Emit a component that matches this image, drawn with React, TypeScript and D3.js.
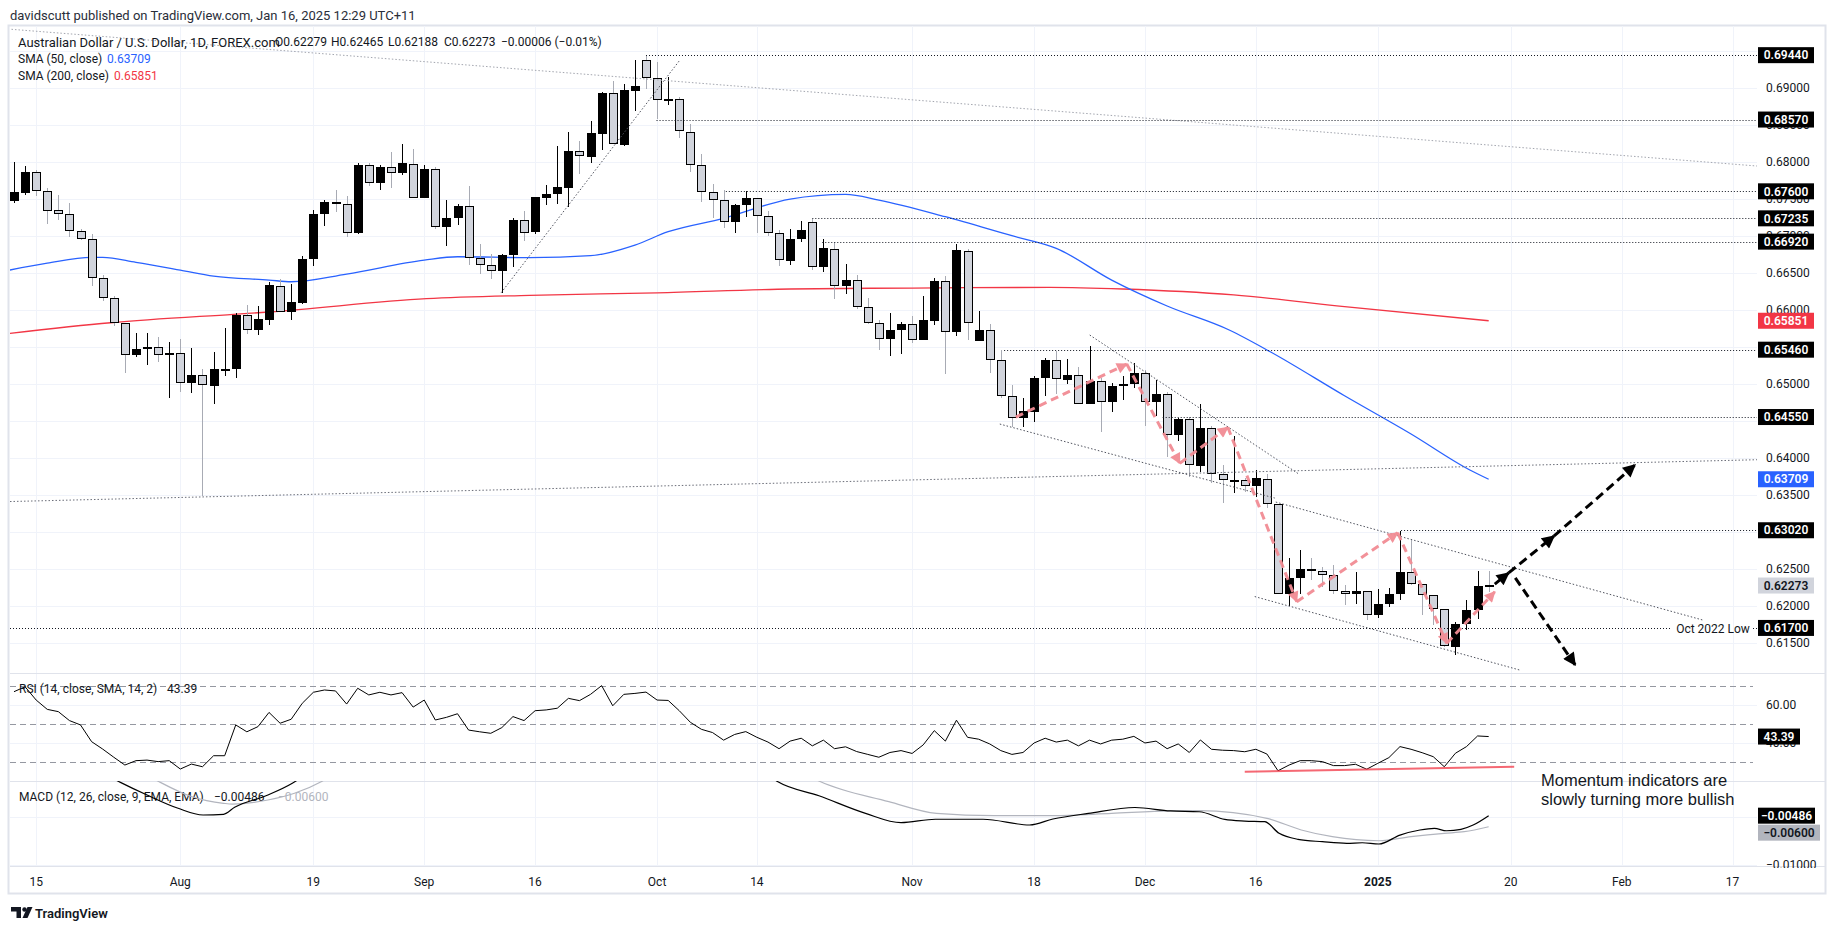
import React, { useEffect } from "react";
import * as d3 from "d3";

// ---------- DATA ----------
// daily candles [open, high, low, close], index 0 = 11 Jul 2024 ... index 133 = 16 Jan 2025
const candles: number[][] = [
  [0.67473, 0.68, 0.67446, 0.67586], [0.67581, 0.67941, 0.67554, 0.67856], [0.67856, 0.67887, 0.6754, 0.67599],
  [0.67599, 0.6764, 0.67162, 0.67338], [0.67342, 0.6755, 0.67212, 0.67288], [0.67288, 0.67437, 0.66986, 0.67058],
  [0.67063, 0.6709, 0.66941, 0.6695], [0.6695, 0.67022, 0.66324, 0.66423], [0.66423, 0.66464, 0.66121, 0.66153],
  [0.66153, 0.66184, 0.65784, 0.65815], [0.65815, 0.65815, 0.65149, 0.65383], [0.65383, 0.65684, 0.6536, 0.65464],
  [0.65464, 0.65684, 0.65257, 0.65495], [0.65491, 0.65626, 0.65297, 0.65383], [0.65383, 0.65563, 0.6481, 0.65414],
  [0.6541, 0.65603, 0.64891, 0.65004], [0.65004, 0.65477, 0.64878, 0.65112], [0.65112, 0.65198, 0.63486, 0.64977],
  [0.64973, 0.65428, 0.64729, 0.65193], [0.6519, 0.65747, 0.65108, 0.65195], [0.65193, 0.6595, 0.65081, 0.65928],
  [0.65923, 0.66063, 0.65675, 0.6572], [0.6572, 0.66049, 0.65662, 0.65869], [0.65865, 0.66378, 0.65797, 0.66333],
  [0.66324, 0.66419, 0.65973, 0.65973], [0.65973, 0.66342, 0.65856, 0.66108], [0.66094, 0.6672, 0.66081, 0.66689],
  [0.66685, 0.67342, 0.6659, 0.67297], [0.67293, 0.67486, 0.6713, 0.67459], [0.67459, 0.67613, 0.6732, 0.67432],
  [0.67432, 0.67531, 0.66982, 0.6704], [0.67031, 0.67986, 0.67022, 0.67959], [0.67959, 0.67986, 0.67671, 0.67716],
  [0.67716, 0.6795, 0.67617, 0.67932], [0.67932, 0.68126, 0.67644, 0.67851], [0.67851, 0.68234, 0.67824, 0.67977],
  [0.67973, 0.68167, 0.67513, 0.67513], [0.67513, 0.6795, 0.67513, 0.67905], [0.67905, 0.67928, 0.6709, 0.67117],
  [0.67117, 0.67486, 0.6686, 0.67243], [0.67239, 0.67423, 0.67144, 0.67405], [0.67401, 0.67676, 0.66599, 0.66703],
  [0.66703, 0.66892, 0.66482, 0.66608], [0.66608, 0.66757, 0.66414, 0.66527], [0.66522, 0.66757, 0.66225, 0.66743],
  [0.66739, 0.67243, 0.66576, 0.67216], [0.67216, 0.67329, 0.66928, 0.6704], [0.67045, 0.67527, 0.67022, 0.67518],
  [0.67513, 0.67685, 0.67414, 0.67558], [0.67558, 0.68212, 0.67432, 0.67653], [0.67649, 0.68396, 0.67392, 0.6814],
  [0.6814, 0.68284, 0.67838, 0.68072], [0.68067, 0.68545, 0.67986, 0.68383], [0.68378, 0.68946, 0.68158, 0.68928],
  [0.68923, 0.6909, 0.68234, 0.68234], [0.6823, 0.69045, 0.68212, 0.68964], [0.68959, 0.69374, 0.68689, 0.69018],
  [0.69369, 0.69432, 0.68986, 0.69126], [0.69126, 0.69342, 0.68577, 0.68829], [0.68829, 0.6914, 0.68766, 0.68847],
  [0.68842, 0.68878, 0.68315, 0.68414], [0.68405, 0.68509, 0.67865, 0.67955], [0.6795, 0.68104, 0.6745, 0.6759],
  [0.67586, 0.67703, 0.67234, 0.67477], [0.67477, 0.67613, 0.67099, 0.67184], [0.6718, 0.67428, 0.67031, 0.67414],
  [0.6741, 0.67599, 0.67257, 0.67504], [0.67504, 0.67504, 0.67031, 0.67261], [0.67261, 0.67333, 0.66991, 0.67031],
  [0.67031, 0.67076, 0.66594, 0.66666], [0.66658, 0.67095, 0.66608, 0.6696], [0.6696, 0.67194, 0.66914, 0.67072],
  [0.67189, 0.6723, 0.66536, 0.66581], [0.66581, 0.6695, 0.66509, 0.66829], [0.66824, 0.66914, 0.66144, 0.66324],
  [0.66324, 0.66613, 0.66212, 0.66405], [0.66405, 0.66464, 0.66009, 0.6604], [0.6604, 0.66162, 0.65811, 0.65824],
  [0.65824, 0.65856, 0.65455, 0.65608], [0.65604, 0.65959, 0.65374, 0.6573], [0.65725, 0.65838, 0.65401, 0.65811],
  [0.65811, 0.6591, 0.6555, 0.65594], [0.6559, 0.66189, 0.6559, 0.65856], [0.65847, 0.66423, 0.65793, 0.66383],
  [0.66383, 0.6645, 0.6513, 0.65703], [0.65698, 0.66883, 0.65644, 0.66802], [0.66797, 0.66815, 0.6559, 0.6582],
  [0.65576, 0.65977, 0.65576, 0.6573], [0.6573, 0.65811, 0.65144, 0.65324], [0.65324, 0.65459, 0.64806, 0.64838],
  [0.64838, 0.64977, 0.64414, 0.6454], [0.64536, 0.64811, 0.64419, 0.64626], [0.64621, 0.65108, 0.64482, 0.65081],
  [0.65081, 0.65342, 0.64829, 0.65315], [0.65315, 0.65446, 0.64856, 0.65059], [0.65054, 0.65333, 0.64991, 0.65113],
  [0.65113, 0.6523, 0.64721, 0.64721], [0.64721, 0.65509, 0.64721, 0.65031], [0.65031, 0.65072, 0.64351, 0.64748],
  [0.64748, 0.65004, 0.64622, 0.64968], [0.64964, 0.65104, 0.64784, 0.64995], [0.64995, 0.65275, 0.64937, 0.6514],
  [0.6514, 0.65185, 0.64428, 0.64748], [0.64748, 0.6505, 0.64567, 0.64856], [0.64856, 0.64892, 0.64004, 0.64302],
  [0.64302, 0.6454, 0.6423, 0.64518], [0.64518, 0.64554, 0.63743, 0.63896], [0.63892, 0.64725, 0.63811, 0.64396],
  [0.64396, 0.64432, 0.63653, 0.63775], [0.63775, 0.63901, 0.63383, 0.63693], [0.63693, 0.64293, 0.63518, 0.63698],
  [0.63693, 0.6372, 0.6354, 0.63612], [0.63612, 0.63833, 0.63473, 0.6372], [0.63716, 0.63784, 0.63324, 0.63378],
  [0.63378, 0.63378, 0.62153, 0.62162], [0.62162, 0.62649, 0.61995, 0.62378], [0.62378, 0.62748, 0.62162, 0.625],
  [0.625, 0.62649, 0.62342, 0.62473], [0.62473, 0.62522, 0.62252, 0.62419], [0.62419, 0.62545, 0.62162, 0.62203],
  [0.62203, 0.62275, 0.62013, 0.62162], [0.62162, 0.62459, 0.62027, 0.62203], [0.62203, 0.62203, 0.61802, 0.61878],
  [0.61878, 0.6223, 0.61838, 0.62027], [0.62027, 0.62243, 0.61982, 0.62162], [0.62162, 0.63009, 0.62072, 0.62459],
  [0.62459, 0.62892, 0.62275, 0.62297], [0.62297, 0.62297, 0.61878, 0.62149], [0.62149, 0.62149, 0.61734, 0.61959],
  [0.61959, 0.61959, 0.61441, 0.6145], [0.61446, 0.61775, 0.61329, 0.61757], [0.61757, 0.62072, 0.61676, 0.61946],
  [0.61946, 0.62464, 0.61824, 0.6227], [0.62279, 0.62465, 0.62188, 0.62273],
];

const rsiValues: number[] = [
  67, 69.6, 62.6, 57.7, 56.5, 51.8, 49.5, 40.7, 36.8, 32.5,
  28.4, 30.7, 31.0, 30.2, 30.7, 26.3, 28.9, 27.5, 33.3, 33.3,
  49.5, 45.9, 48.6, 56.1, 50.4, 52.5, 60.9, 66.7, 67.9, 67.4,
  60.5, 68.8, 65.3, 66.7, 65.3, 66.5, 58.9, 62.6, 52.1, 53.5,
  55.4, 46.8, 45.9, 45.1, 48.1, 53.9, 51.8, 57.0, 57.4, 58.3,
  63.5, 62.3, 65.6, 70.2, 59.6, 65.6, 66.1, 66.8, 62.6, 62.4,
  57.0, 50.9, 47.2, 45.5, 41.5, 44.5, 46.0, 43.0, 40.5, 37.0,
  41.0, 42.5, 38.5, 41.5, 37.0, 38.0, 35.5, 34.0, 32.5, 35.0,
  36.0, 34.5, 39.0, 46.5, 41.0, 52.0, 43.0, 42.0, 39.5, 36.0,
  34.0, 35.0, 40.0, 42.5, 40.5, 41.5, 38.5, 41.5, 39.5, 41.5,
  42.0, 43.5, 40.0, 41.0, 37.0, 39.5, 35.0, 41.6, 36.7, 36.2,
  36.0, 35.4, 36.7, 34.2, 25.4, 28.4, 30.7, 30.7, 30.2, 28.1,
  28.1, 28.8, 26.2, 29.3, 32.3, 38.1, 36.7, 34.9, 32.8, 27.5,
  34.6, 38.1, 43.7, 43.39,
];

// [bar index, value]
const sma50Points: number[][] = [
  [-0.4, 0.66536], [3, 0.6663], [7, 0.66708], [8, 0.66708], [11, 0.6664], [15, 0.66536], [18, 0.66455],
  [23, 0.66401], [25, 0.66378], [30, 0.66482], [37, 0.66671], [40, 0.66716], [46.5, 0.66703], [52, 0.6673],
  [56, 0.66874], [59, 0.67054], [64, 0.67235], [70, 0.67496], [75, 0.67559], [78, 0.67482], [84, 0.67257],
  [90, 0.6700], [94, 0.6683], [99, 0.6640], [104, 0.6605], [109.6, 0.65726], [113.3, 0.65432], [120, 0.64837],
  [126, 0.6432], [131.3, 0.63834], [133, 0.63709],
];
const sma200Points: number[][] = [
  [-0.4, 0.65681], [8.7, 0.65824], [19.8, 0.65938], [23, 0.65969], [37.2, 0.66149], [46.5, 0.66194],
  [58, 0.66228], [70, 0.6628], [81, 0.66293], [93.4, 0.66302], [100, 0.6628], [110, 0.662], [120, 0.66042],
  [133, 0.65851],
];
const macdAug: number[][] = [
  [7.8, -0.0003], [9.6, -0.00139], [12.0, -0.00271], [14.8, -0.00409], [17.05, -0.00479], [18.9, -0.00472],
  [19.9, -0.00399], [22.9, -0.00271], [25.1, -0.00149], [26.5, -0.0004],
];
const signalAug: number[][] = [
  [11.5, -0.0003], [13.2, -0.00139], [16.05, -0.00289], [18.9, -0.00357], [19.7, -0.00365], [22.9, -0.00323],
  [25.3, -0.00253], [27.7, -0.00132], [29, -0.0004],
];
const macdLate: number[][] = [
  [67.6, -0.0003], [68.9, -0.00133], [72.6, -0.00279], [76.8, -0.00462], [80, -0.00559], [83.1, -0.00523],
  [87.4, -0.00523], [91.6, -0.00583], [93.7, -0.00521], [96.9, -0.00462], [101.1, -0.00401], [104.3, -0.00437],
  [106.9, -0.00445], [109.2, -0.00524], [111, -0.00542], [112.8, -0.00549], [114.1, -0.0067], [115.8, -0.00732],
  [118, -0.00757], [120.2, -0.00774], [121.6, -0.00768], [123.1, -0.00781], [125, -0.00688], [126.8, -0.00635],
  [128.1, -0.00618], [129.2, -0.00643], [130.5, -0.00628], [131.6, -0.00583], [133, -0.00486],
];
const signalLate: number[][] = [
  [71, -0.0003], [72.6, -0.00125], [78.9, -0.0034], [83.2, -0.00462], [88.4, -0.00486], [93.7, -0.00486],
  [99, -0.00462], [104.3, -0.00437], [106.9, -0.00434], [113, -0.00514], [116.1, -0.00635], [118.9, -0.00705],
  [123.1, -0.00747], [126, -0.00705], [129, -0.0067], [130.8, -0.00653], [133, -0.00601],
];

const timeTickIndex = [2, 15, 27, 37, 47, 58, 67, 81, 92, 102, 112, 123, 135, 145, 155];
const timeTickLabels = ["15", "Aug", "19", "Sep", "16", "Oct", "14", "Nov", "18", "Dec", "16", "2025", "20", "Feb", "17"];
const priceTicks = [0.615, 0.62, 0.625, 0.63, 0.635, 0.64, 0.645, 0.65, 0.655, 0.66, 0.665, 0.67, 0.675, 0.68, 0.685, 0.69, 0.695];
const rsiTicks = [60, 40];
const rsiBands = [70, 50, 30];
const macdTicks = [-0.005, -0.01];

// horizontal levels: [price, start bar index]
const levelPrices = [0.6944, 0.6857, 0.676, 0.67235, 0.6692, 0.6546, 0.6455, 0.6302, 0.617];
const levelStarts = [57.0, 57.95, 64.2, 72.0, 72.9, 89.3, 103.6, 125.1, -0.36];
const levelLabels = ["0.69440", "0.68570", "0.67600", "0.67235", "0.66920", "0.65460", "0.64550", "0.63020", "0.61700"];

// trend lines: [[idxA, priceA], [idxB, priceB]]
const trendLines: number[][][] = [
  [[-0.54, 0.69793], [157.2, 0.67942]],
  [[-0.36, 0.63408], [157.2, 0.63973]],
  [[43.94, 0.6623], [59.99, 0.69361]],
  [[97.02, 0.65658], [115.87, 0.6378]],
  [[88.91, 0.64455], [113.71, 0.63455]],
  [[113.8, 0.63401], [152.3, 0.61807]],
  [[111.9, 0.62124], [135.8, 0.61131]],
];
// pink zig-zag arrows
const zigzag: number[][] = [
  [90.35, 0.6455], [100.36, 0.65266], [105.14, 0.63924], [109.47, 0.64411], [115.69, 0.62054],
  [124.8, 0.62986], [129.22, 0.61492], [133.55, 0.62189],
];
// black projection arrows
const projArrows: number[][][] = [
  [[133.55, 0.62293], [134.8, 0.62443]],
  [[134.8, 0.62443], [138.9, 0.62943]],
  [[138.9, 0.62943], [146.2, 0.63903]],
  [[135.4, 0.62376], [140.8, 0.612]],
];

const legendValues = ["O0.62279", "H0.62465", "L0.62188", "C0.62273", "\u22120.00006 (\u22120.01%)"];
const lastClose = 0.62273;
const sma50Last = 0.63709;
const sma200Last = 0.65851;
const rsiLast = 43.39;
const macdLast = -0.00486;
const signalLast = -0.006;

// ---------- LAYOUT ----------
const W = 1835;
const H = 931;
const L = 10;
const R = 1757;
const MAIN_T = 26;
const MAIN_B = 673;
const RSI_B = 781;
const MACD_B = 866;
const FONT = "Roboto, 'Liberation Sans', Arial, sans-serif";
const TXT = "#131722";

const x = d3.scaleLinear().domain([-0.36, 157.2]).range([L, R]);
const yP = d3.scaleLinear().domain([0.61091, 0.69834]).range([MAIN_B, MAIN_T]);
const yR = d3.scaleLinear().domain([20, 76.84]).range([RSI_B, MAIN_B]);
const yM = d3.scaleLinear().domain([-0.0101, -0.00125]).range([MACD_B, RSI_B]);

const f5 = d3.format(".5f");
const minus = (s: string) => s.replace("-", "\u2212");

function Box({ y, text, bg, fg, w = 56 }: { y: number; text: string; bg: string; fg: string; w?: number }) {
  return (
    <g>
      <rect x={1758} y={y - 8} width={w} height={16} fill={bg} />
      <text x={1758 + w / 2} y={y} dy="0.35em" textAnchor="middle" fontSize={12} fontWeight={600} fill={fg}>
        {text}
      </text>
    </g>
  );
}

export default function App() {
  useEffect(() => {
    document.body.style.margin = "0";
    document.body.style.overflow = "hidden";
  }, []);

  const line2 = (curve: d3.CurveFactory, ys: (v: number) => number) =>
    d3
      .line<number[]>()
      .x((d) => x(d[0]))
      .y((d) => ys(d[1]))
      .curve(curve);

  const smaLine = line2(d3.curveMonotoneX, yP);
  const macdLine = line2(d3.curveMonotoneX, yM);
  const rsiLine = d3
    .line<number>()
    .x((_, i) => x(i))
    .y((d) => yR(d));

  const crisp = (v: number) => Math.round(v) + 0.5;

  // price-axis label boxes (black levels + coloured)
  const boxes = [
    ...levelPrices.map((p, i) => ({ y: yP(p), text: levelLabels[i], bg: "#000", fg: "#fff" })),
    { y: yP(sma200Last), text: f5(sma200Last), bg: "#f23645", fg: "#fff" },
    { y: yP(sma50Last), text: f5(sma50Last), bg: "#2962ff", fg: "#fff" },
    { y: yP(lastClose), text: f5(lastClose), bg: "#d1d4dc", fg: TXT },
  ];
  // tick labels that sit almost entirely under a value box are not visible
  const visiblePriceTicks = priceTicks.filter((p) => boxes.every((b) => Math.abs(b.y - yP(p)) > 5));

  const macdY = yM(macdLast);
  const sigY = Math.max(yM(signalLast), macdY + 17);
  const visibleMacdTicks = macdTicks.filter((v) => Math.abs(yM(v) - macdY) > 5);

  const octLowY = crisp(yP(0.617));
  const legendX = [275, 331, 388, 444, 501];

  return (
    <svg
      width={W}
      height={H}
      style={{ position: "absolute", left: 0, top: 0, background: "#fff" }}
      fontFamily={FONT}
    >
      <defs>
        <clipPath id="cMain">
          <rect x={L} y={MAIN_T} width={R - L} height={MAIN_B - MAIN_T} />
        </clipPath>
        <clipPath id="cRsi">
          <rect x={L} y={MAIN_B} width={R - L} height={RSI_B - MAIN_B} />
        </clipPath>
        <clipPath id="cMacd">
          <rect x={L} y={RSI_B} width={R - L} height={MACD_B - RSI_B} />
        </clipPath>
        <clipPath id="cMacdAxis">
          <rect x={R} y={RSI_B} width={70} height={MACD_B - RSI_B + 2} />
        </clipPath>
        <marker id="pinkHead" viewBox="0 0 10 10" refX="9" refY="5" markerWidth="12" markerHeight="11"
          markerUnits="userSpaceOnUse" orient="auto">
          <path d="M0,0 L10,5 L0,10 z" fill="#f28c94" />
        </marker>
        <marker id="blackHead" viewBox="0 0 10 10" refX="9" refY="5" markerWidth="15" markerHeight="13"
          markerUnits="userSpaceOnUse" orient="auto">
          <path d="M0,0 L10,5 L0,10 z" fill="#000" />
        </marker>
      </defs>

      <rect x={0} y={0} width={W} height={H} fill="#fff" />

      {/* header */}
      <text x={10} y={15} dy="0.35em" fontSize={13} fill="#2a2e39">
        davidscutt published on TradingView.com, Jan 16, 2025 12:29 UTC+11
      </text>

      {/* frame */}
      <rect x={8.5} y={25.5} width={1817} height={868} fill="none" stroke="#e0e3eb" strokeWidth={2} />

      {/* grid */}
      <g stroke="#f0f3fa" strokeWidth={1}>
        {timeTickIndex.map((t, i) => (
          <line key={"vg" + i} x1={crisp(x(t))} x2={crisp(x(t))} y1={MAIN_T} y2={MACD_B} />
        ))}
        {priceTicks.map((p, i) => (
          <line key={"hg" + i} x1={L} x2={R} y1={crisp(yP(p))} y2={crisp(yP(p))} />
        ))}
        {rsiTicks.map((v, i) => (
          <line key={"rg" + i} x1={L} x2={R} y1={crisp(yR(v))} y2={crisp(yR(v))} />
        ))}
        {macdTicks.map((v, i) => (
          <line key={"mg" + i} x1={L} x2={R} y1={crisp(yM(v))} y2={crisp(yM(v))} />
        ))}
      </g>

      {/* pane separators */}
      <g stroke="#e0e3eb" strokeWidth={1}>
        <line x1={L} x2={1825} y1={MAIN_B + 0.5} y2={MAIN_B + 0.5} />
        <line x1={L} x2={1825} y1={RSI_B + 0.5} y2={RSI_B + 0.5} />
        <line x1={L} x2={1825} y1={MACD_B + 0.5} y2={MACD_B + 0.5} />
      </g>

      {/* MAIN PANE */}
      <g clipPath="url(#cMain)">
        <path d={smaLine(sma200Points) || ""} fill="none" stroke="#f23645" strokeWidth={1.3} />
        <path d={smaLine(sma50Points) || ""} fill="none" stroke="#2962ff" strokeWidth={1.3} />

        {candles.map((c, i) => {
          const [o, h, l, cl] = c;
          const up = cl >= o;
          const X = Math.round(x(i));
          const top = Math.round(yP(Math.max(o, cl)));
          const bot = Math.round(yP(Math.min(o, cl)));
          return (
            <g key={"c" + i}>
              <line x1={X + 0.5} x2={X + 0.5} y1={Math.round(yP(h))} y2={Math.round(yP(l))}
                stroke={up ? "#000" : "#a8abb4"} strokeWidth={1} />
              {bot - top >= 2 ? (
                <rect x={X - 3.5} y={top + 0.5} width={8} height={bot - top - 1 + 0.0001}
                  fill={up ? "#000" : "#d1d4dc"} stroke="#000" strokeWidth={1} />
              ) : (
                <rect x={X - 4} y={top} width={9} height={2} fill="#000" />
              )}
            </g>
          );
        })}

        {/* trend lines */}
        {trendLines.map((tl, i) => (
          <line key={"tl" + i} x1={x(tl[0][0])} y1={yP(tl[0][1])} x2={x(tl[1][0])} y2={yP(tl[1][1])}
            stroke={i === 0 ? "#a3a6af" : i === 1 ? "#6a6d78" : "#50535e"} strokeWidth={1}
            strokeDasharray="1.5 2" />
        ))}

        {/* horizontal levels */}
        {levelPrices.map((p, i) => {
          const yy = crisp(yP(p));
          if (i === levelPrices.length - 1) {
            return (
              <g key={"lv" + i}>
                <line x1={x(levelStarts[i])} x2={1671} y1={yy} y2={yy} stroke={TXT} strokeDasharray="1 2" />
                <line x1={1753} x2={R} y1={yy} y2={yy} stroke={TXT} strokeDasharray="1 2" />
              </g>
            );
          }
          return <line key={"lv" + i} x1={x(levelStarts[i])} x2={R} y1={yy} y2={yy} stroke={TXT} strokeDasharray="1 2" />;
        })}
        <text x={1713} y={octLowY} dy="0.35em" textAnchor="middle" fontSize={12} fill={TXT}>
          Oct 2022 Low
        </text>

        {/* pink zig-zag */}
        {zigzag.slice(1).map((p, i) => (
          <line key={"zz" + i} x1={x(zigzag[i][0])} y1={yP(zigzag[i][1])} x2={x(p[0])} y2={yP(p[1])}
            stroke="#f28c94" strokeWidth={3} strokeDasharray="8 5" markerEnd="url(#pinkHead)" opacity={0.95} />
        ))}

        {/* black projection arrows */}
        {projArrows.map((a, i) => (
          <line key={"pa" + i} x1={x(a[0][0])} y1={yP(a[0][1])} x2={x(a[1][0])} y2={yP(a[1][1])}
            stroke="#000" strokeWidth={3} strokeDasharray="9 5" markerEnd="url(#blackHead)" />
        ))}
      </g>

      {/* legends main */}
      <g fill={TXT}>
        <text x={18} y={42} dy="0.35em" fontSize={13}>Australian Dollar / U.S. Dollar, 1D, FOREX.com</text>
        {legendValues.map((v, i) => (
          <text key={"lg" + i} x={legendX[i]} y={42} dy="0.35em" fontSize={12}>{v}</text>
        ))}
        <text x={18} y={59} dy="0.35em" fontSize={12}>SMA (50, close)</text>
        <text x={107} y={59} dy="0.35em" fontSize={12} fill="#2962ff">{f5(sma50Last)}</text>
        <text x={18} y={76} dy="0.35em" fontSize={12}>SMA (200, close)</text>
        <text x={114} y={76} dy="0.35em" fontSize={12} fill="#f23645">{f5(sma200Last)}</text>
      </g>

      {/* RSI PANE */}
      <g clipPath="url(#cRsi)">
        {rsiBands.map((v, i) => (
          <line key={"rb" + i} x1={L} x2={1753} y1={crisp(yR(v))} y2={crisp(yR(v))} stroke="#9598a1"
            strokeDasharray="6 4" />
        ))}
        <path d={rsiLine(rsiValues) || ""} fill="none" stroke="#000" strokeWidth={1} />
        <line x1={x(111)} y1={yR(24.9)} x2={x(135.3)} y2={yR(27.5)} stroke="#f23645" strokeWidth={2} opacity={0.75} />
      </g>
      <g fill={TXT} fontSize={12}>
        <text x={19} y={689} dy="0.35em">RSI (14, close, SMA, 14, 2)</text>
        <text x={167} y={689} dy="0.35em">{rsiLast.toFixed(2)}</text>
        <text x={19} y={797} dy="0.35em">MACD (12, 26, close, 9, EMA, EMA)</text>
        <text x={214} y={797} dy="0.35em">{minus(f5(macdLast))}</text>
        <text x={278} y={797} dy="0.35em" fill="#b2b5be">{minus(f5(signalLast))}</text>
      </g>

      {/* MACD PANE */}
      <g clipPath="url(#cMacd)">
        <path d={macdLine(signalAug) || ""} fill="none" stroke="#b2b5be" strokeWidth={1.2} />
        <path d={macdLine(signalLate) || ""} fill="none" stroke="#b2b5be" strokeWidth={1.2} />
        <path d={macdLine(macdAug) || ""} fill="none" stroke="#000" strokeWidth={1.2} />
        <path d={macdLine(macdLate) || ""} fill="none" stroke="#000" strokeWidth={1.2} />
      </g>

      {/* annotation text */}
      <g fontFamily="'Liberation Sans', Arial, sans-serif" fontSize={16.5} fill={TXT}>
        <text x={1541} y={780} dy="0.35em">Momentum indicators are</text>
        <text x={1541} y={799.5} dy="0.35em">slowly turning more bullish</text>
      </g>

      {/* price axis */}
      <g fontSize={12} fill={TXT}>
        {visiblePriceTicks.map((p, i) => (
          <text key={"pt" + i} x={1766} y={yP(p)} dy="0.35em">{f5(p)}</text>
        ))}
        {rsiTicks.map((v, i) => (
          <text key={"rt" + i} x={1766} y={yR(v)} dy="0.35em">{v.toFixed(2)}</text>
        ))}
        <g clipPath="url(#cMacdAxis)">
          {visibleMacdTicks.map((v, i) => (
            <text key={"mt" + i} x={1766} y={yM(v)} dy="0.35em">{minus(f5(v))}</text>
          ))}
        </g>
      </g>
      {boxes.map((b, i) => (
        <Box key={"bx" + i} y={b.y} text={b.text} bg={b.bg} fg={b.fg} />
      ))}
      <Box y={yR(rsiLast)} text={rsiLast.toFixed(2)} bg="#000" fg="#fff" w={42} />
      <Box y={macdY} text={minus(f5(macdLast))} bg="#000" fg="#fff" w={57} />
      <Box y={sigY} text={minus(f5(signalLast))} bg="#b2b5be" fg={TXT} w={62} />

      {/* time axis */}
      <g fontSize={12} fill={TXT}>
        {timeTickIndex.map((t, i) => (
          <text key={"tt" + i} x={x(t)} y={881.5} dy="0.35em" textAnchor="middle"
            fontWeight={timeTickLabels[i] === "2025" ? 700 : 400}>
            {timeTickLabels[i]}
          </text>
        ))}
      </g>

      {/* TradingView logo */}
      <g fill="#131722">
        <path d="M11 907 h10 v11 h-4.5 v-6.5 h-5.5 z" />
        <circle cx={24.5} cy={909.5} r={2.2} />
        <path d="M27.5 907 h5 l-5 11 h-5 z" />
        <text x={35} y={913} dy="0.35em" fontSize={13} fontWeight={600}>TradingView</text>
      </g>
    </svg>
  );
}
